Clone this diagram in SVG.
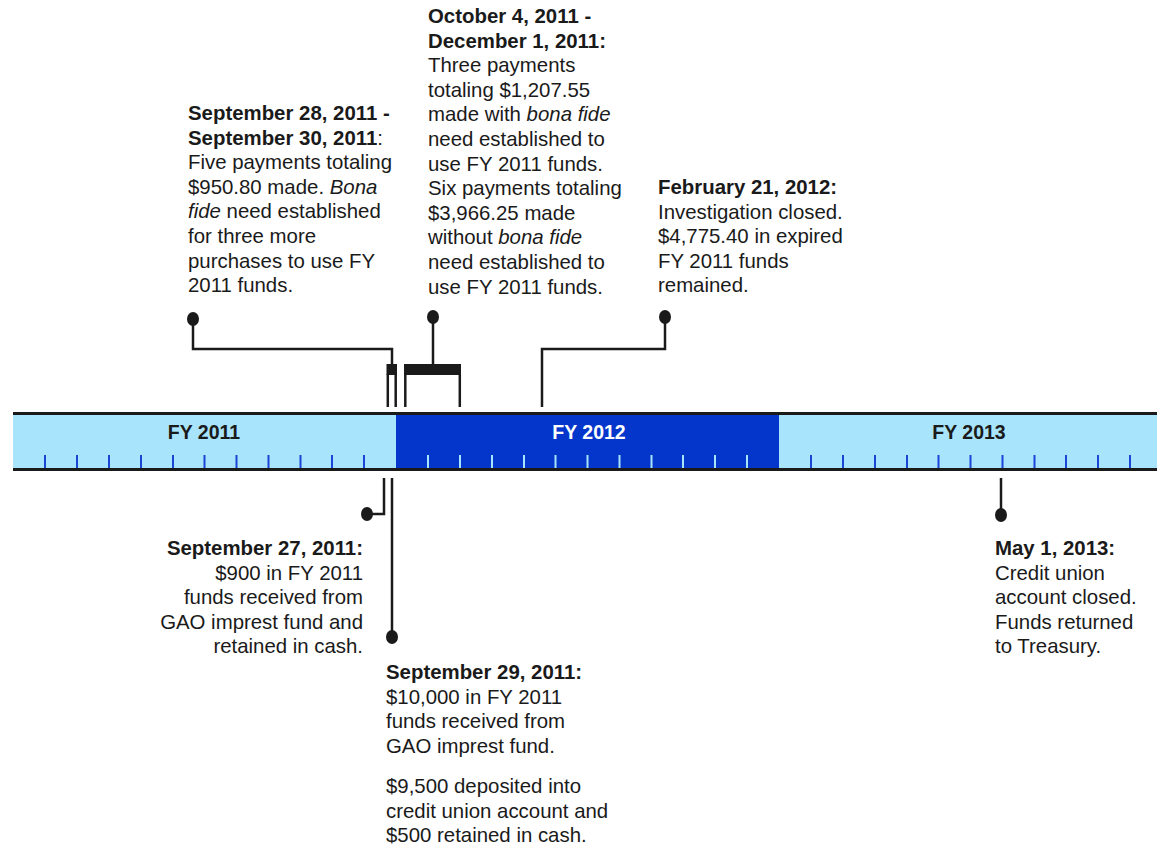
<svg xmlns="http://www.w3.org/2000/svg" width="1157" height="846" viewBox="0 0 1157 846">
<style>
text{font-family:"Liberation Sans",Arial,sans-serif;font-size:20.4px;fill:#1a1a1a}
.b{font-weight:bold}
.i{font-style:italic}
.fy{font-weight:bold;font-size:19.5px;text-anchor:middle}
.ln{stroke:#1a1a1a;stroke-width:2.5;fill:none}
.dot{fill:#1a1a1a}
.tk1{stroke:#1b45d6;stroke-width:2}
.tk2{stroke:#a8e4fb;stroke-width:2}
</style>
<rect width="1157" height="846" fill="#ffffff"/>
<g id="timeline">
<rect x="13" y="414" width="383" height="55" fill="#a8e4fb"/>
<rect x="396" y="414" width="383" height="55" fill="#0436cc"/>
<rect x="779" y="414" width="378" height="55" fill="#a8e4fb"/>
<line x1="13" y1="413.5" x2="1157" y2="413.5" stroke="#1a1a1a" stroke-width="3"/>
<line x1="13" y1="469.5" x2="1157" y2="469.5" stroke="#1a1a1a" stroke-width="3"/>
<g class="tk1">
<line x1="45" y1="455" x2="45" y2="468"/><line x1="77" y1="455" x2="77" y2="468"/><line x1="109" y1="455" x2="109" y2="468"/><line x1="141" y1="455" x2="141" y2="468"/><line x1="173" y1="455" x2="173" y2="468"/><line x1="204.5" y1="455" x2="204.5" y2="468"/><line x1="236.5" y1="455" x2="236.5" y2="468"/><line x1="268.5" y1="455" x2="268.5" y2="468"/><line x1="300.5" y1="455" x2="300.5" y2="468"/><line x1="332" y1="455" x2="332" y2="468"/><line x1="364" y1="455" x2="364" y2="468"/>
<line x1="811" y1="455" x2="811" y2="468"/><line x1="843" y1="455" x2="843" y2="468"/><line x1="875" y1="455" x2="875" y2="468"/><line x1="907" y1="455" x2="907" y2="468"/><line x1="938.5" y1="455" x2="938.5" y2="468"/><line x1="970.5" y1="455" x2="970.5" y2="468"/><line x1="1002.5" y1="455" x2="1002.5" y2="468"/><line x1="1034.5" y1="455" x2="1034.5" y2="468"/><line x1="1066" y1="455" x2="1066" y2="468"/><line x1="1098" y1="455" x2="1098" y2="468"/><line x1="1130" y1="455" x2="1130" y2="468"/>
</g>
<g class="tk2">
<line x1="428" y1="455" x2="428" y2="468"/><line x1="460" y1="455" x2="460" y2="468"/><line x1="492" y1="455" x2="492" y2="468"/><line x1="524" y1="455" x2="524" y2="468"/><line x1="555.5" y1="455" x2="555.5" y2="468"/><line x1="587.5" y1="455" x2="587.5" y2="468"/><line x1="619.5" y1="455" x2="619.5" y2="468"/><line x1="651.5" y1="455" x2="651.5" y2="468"/><line x1="683" y1="455" x2="683" y2="468"/><line x1="715" y1="455" x2="715" y2="468"/><line x1="747" y1="455" x2="747" y2="468"/>
</g>
<text class="fy" x="204" y="439">FY 2011</text>
<text class="fy" x="589" y="439" style="fill:#ffffff">FY 2012</text>
<text class="fy" x="969" y="439">FY 2013</text>
</g>
<g id="connectors">
<polyline class="ln" points="193,319 193,349 392,349 392,366"/>
<rect x="386.5" y="364" width="10.5" height="11" fill="#1a1a1a"/>
<line class="ln" x1="387.8" y1="374" x2="387.8" y2="407"/>
<line class="ln" x1="395.7" y1="374" x2="395.7" y2="407"/>
<line class="ln" x1="433" y1="317" x2="433" y2="366"/>
<rect x="404" y="364" width="57" height="11" fill="#1a1a1a"/>
<line class="ln" x1="405.3" y1="374" x2="405.3" y2="407"/>
<line class="ln" x1="459.8" y1="374" x2="459.8" y2="407"/>
<polyline class="ln" points="665,317 665,349 542,349 542,407"/>
<polyline class="ln" points="384,478 384,514 367,514"/>
<line class="ln" x1="392" y1="478" x2="392" y2="637"/>
<line class="ln" x1="1001" y1="478" x2="1001" y2="515"/>
<ellipse class="dot" cx="193" cy="319" rx="6" ry="7"/>
<ellipse class="dot" cx="433" cy="317" rx="6" ry="7"/>
<ellipse class="dot" cx="665" cy="317" rx="6" ry="7"/>
<ellipse class="dot" cx="367" cy="514" rx="6" ry="7"/>
<ellipse class="dot" cx="392" cy="637" rx="6" ry="7"/>
<ellipse class="dot" cx="1001" cy="515" rx="6" ry="7"/>
</g>
<g id="sep28">
<text x="188" y="120"><tspan class="b">September 28, 2011 -</tspan></text>
<text x="188" y="144.6"><tspan class="b">September 30, 2011</tspan>:</text>
<text x="188" y="169.2">Five payments totaling</text>
<text x="188" y="193.8">$950.80 made. <tspan class="i">Bona</tspan></text>
<text x="188" y="218.4"><tspan class="i">fide</tspan> need established</text>
<text x="188" y="243">for three more</text>
<text x="188" y="267.6">purchases to use FY</text>
<text x="188" y="292.2">2011 funds.</text>
</g>
<g id="oct4">
<text x="428" y="23" class="b">October 4, 2011 -</text>
<text x="428" y="47.6" class="b">December 1, 2011:</text>
<text x="428" y="72.2">Three payments</text>
<text x="428" y="96.8">totaling $1,207.55</text>
<text x="428" y="121.4">made with <tspan class="i">bona fide</tspan></text>
<text x="428" y="146">need established to</text>
<text x="428" y="170.6">use FY 2011 funds.</text>
<text x="428" y="195.2">Six payments totaling</text>
<text x="428" y="219.8">$3,966.25 made</text>
<text x="428" y="244.4">without <tspan class="i">bona fide</tspan></text>
<text x="428" y="269">need established to</text>
<text x="428" y="293.6">use FY 2011 funds.</text>
</g>
<g id="feb21">
<text x="658" y="194" class="b">February 21, 2012:</text>
<text x="658" y="218.6">Investigation closed.</text>
<text x="658" y="243.2">$4,775.40 in expired</text>
<text x="658" y="267.8">FY 2011 funds</text>
<text x="658" y="292.4">remained.</text>
</g>
<g id="sep27" text-anchor="end">
<text x="363" y="555" class="b">September 27, 2011:</text>
<text x="363" y="579.6">$900 in FY 2011</text>
<text x="363" y="604.2">funds received from</text>
<text x="363" y="628.8">GAO imprest fund and</text>
<text x="363" y="653.4">retained in cash.</text>
</g>
<g id="sep29">
<text x="386" y="679" class="b">September 29, 2011:</text>
<text x="386" y="703.6">$10,000 in FY 2011</text>
<text x="386" y="728.2">funds received from</text>
<text x="386" y="752.8">GAO imprest fund.</text>
<text x="386" y="793">$9,500 deposited into</text>
<text x="386" y="817.6">credit union account and</text>
<text x="386" y="842">$500 retained in cash.</text>
</g>
<g id="may1">
<text x="995" y="555" class="b">May 1, 2013:</text>
<text x="995" y="579.6">Credit union</text>
<text x="995" y="604.2">account closed.</text>
<text x="995" y="628.8">Funds returned</text>
<text x="995" y="653.4">to Treasury.</text>
</g>
</svg>
